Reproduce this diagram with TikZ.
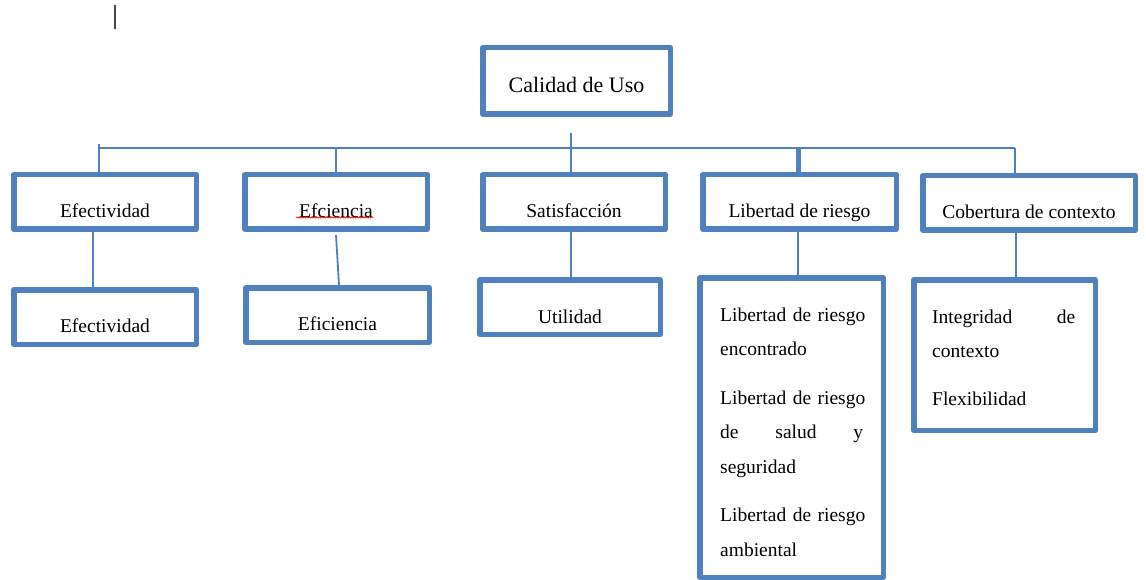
\documentclass[tikz,border=0pt]{standalone}
\usepackage{fontspec}
\setmainfont{Liberation Serif}
\usetikzlibrary{calc,decorations.pathmorphing}
\definecolor{boxblue}{RGB}{79,129,189}
\definecolor{cursorgray}{RGB}{70,70,70}
\tikzset{
  box/.style={draw=boxblue, line width=5.5pt, inner sep=0pt, text depth=0pt,
    font=\fontsize{19.5}{23}\selectfont, line join=round},
  conn/.style={draw=boxblue, line width=1.8pt},
  thickconn/.style={draw=boxblue, line width=5pt},
  multitext/.style={anchor=base west, inner sep=0pt, align=left, text width=165pt,
    font=\fontsize{19.5}{34.5}\selectfont},
}
\begin{document}
\begin{tikzpicture}[x=1pt,y=-1pt]
\useasboundingbox (0,0) rectangle (1146,580);
% text cursor mark
\draw[cursorgray, line width=2pt] (114.5,5) -- (114.5,29);

% root
\node[box, minimum width=187.5pt, minimum height=66.5pt, text height=24pt,
  font=\fontsize{22}{26}\selectfont] (root) at (576.5,81) {Calidad de Uso};

% level 1
\node[box, minimum width=182.5pt, minimum height=54.5pt, text height=32pt] (ef1) at (105,202) {Efectividad};
\node[box, minimum width=182.5pt, minimum height=54.5pt, text height=32pt] (efc1) at (336,202) {Efciencia};
\node[box, minimum width=182.5pt, minimum height=54.5pt, text height=32pt] (sat1) at (574,202) {Satisfacción};
\node[box, minimum width=193.5pt, minimum height=54.5pt, text height=32pt] (lib1) at (799.5,202) {Libertad de riesgo};
\node[box, minimum width=212.5pt, minimum height=54.5pt, text height=32pt] (cob1) at (1029,203) {Cobertura de contexto};

% level 2
\node[box, minimum width=182.5pt, minimum height=54.5pt, text height=30pt] (ef2) at (105,317) {Efectividad};
\node[box, minimum width=183.5pt, minimum height=54.5pt, text height=30pt] (efc2) at (337.5,315) {Eficiencia};
\node[box, minimum width=180.5pt, minimum height=54.5pt, text height=32pt] (sat2) at (570,307) {Utilidad};
\node[box, minimum width=183.5pt, minimum height=299.5pt] (lib2) at (791.5,427.5) {};
\node[box, minimum width=181.5pt, minimum height=150.5pt] (cob2) at (1004.5,355) {};

\node[multitext] (libtext) at (720,321) {Libertad de riesgo\\
encontrado\\[14pt]
Libertad de riesgo\\
\makebox[143pt][l]{de\hfill salud\hfill y}\\
seguridad\\[14pt]
Libertad de riesgo\\
ambiental};

\node[multitext] (cobtext) at (932,323) {\makebox[143pt][l]{Integridad\hfill de}\\
contexto\\[13pt]
Flexibilidad};

% spelling mark under "Efciencia"
\draw[red, line width=0.6pt, decorate, decoration={snake, amplitude=0.6pt, segment length=2.5pt}]
  ([xshift=-40pt,yshift=-15.5pt]efc1.center) -- ([xshift=37pt,yshift=-15.5pt]efc1.center);

% connectors
\coordinate (bar) at (0,148);
\coordinate (stemtop) at ([xshift=-5.5pt,yshift=-16pt]root.south);
\coordinate (d1) at ([xshift=-6pt]ef1.north);
\coordinate (d2) at (efc1.north);
\coordinate (d4) at ([xshift=-1.5pt]lib1.north);
\coordinate (d5) at ([xshift=-14pt]cob1.north);

\draw[conn] (d1 |- bar) -- (d5 |- bar);
\draw[conn] (stemtop) -- (stemtop |- sat1.north);
\draw[conn] ([yshift=4pt]d1 |- bar) -- (d1);
\draw[conn] (d2 |- bar) -- (d2);
\draw[thickconn] (d4 |- bar) -- (d4);
\draw[conn] (d5 |- bar) -- (d5);

\draw[conn] ([xshift=-12pt]ef1.south) -- ([xshift=-12pt]ef2.north);
\draw[conn] ([yshift=-3pt]efc1.south) -- ([xshift=1.5pt]efc2.north);
\draw[conn] ([xshift=-3pt]sat1.south) -- ([xshift=1pt]sat2.north);
\draw[conn] ([xshift=-1.5pt]lib1.south) -- ([xshift=6.5pt]lib2.north);
\draw[conn] ([xshift=-13pt]cob1.south) -- ([xshift=11.5pt]cob2.north);
\end{tikzpicture}
\end{document}
